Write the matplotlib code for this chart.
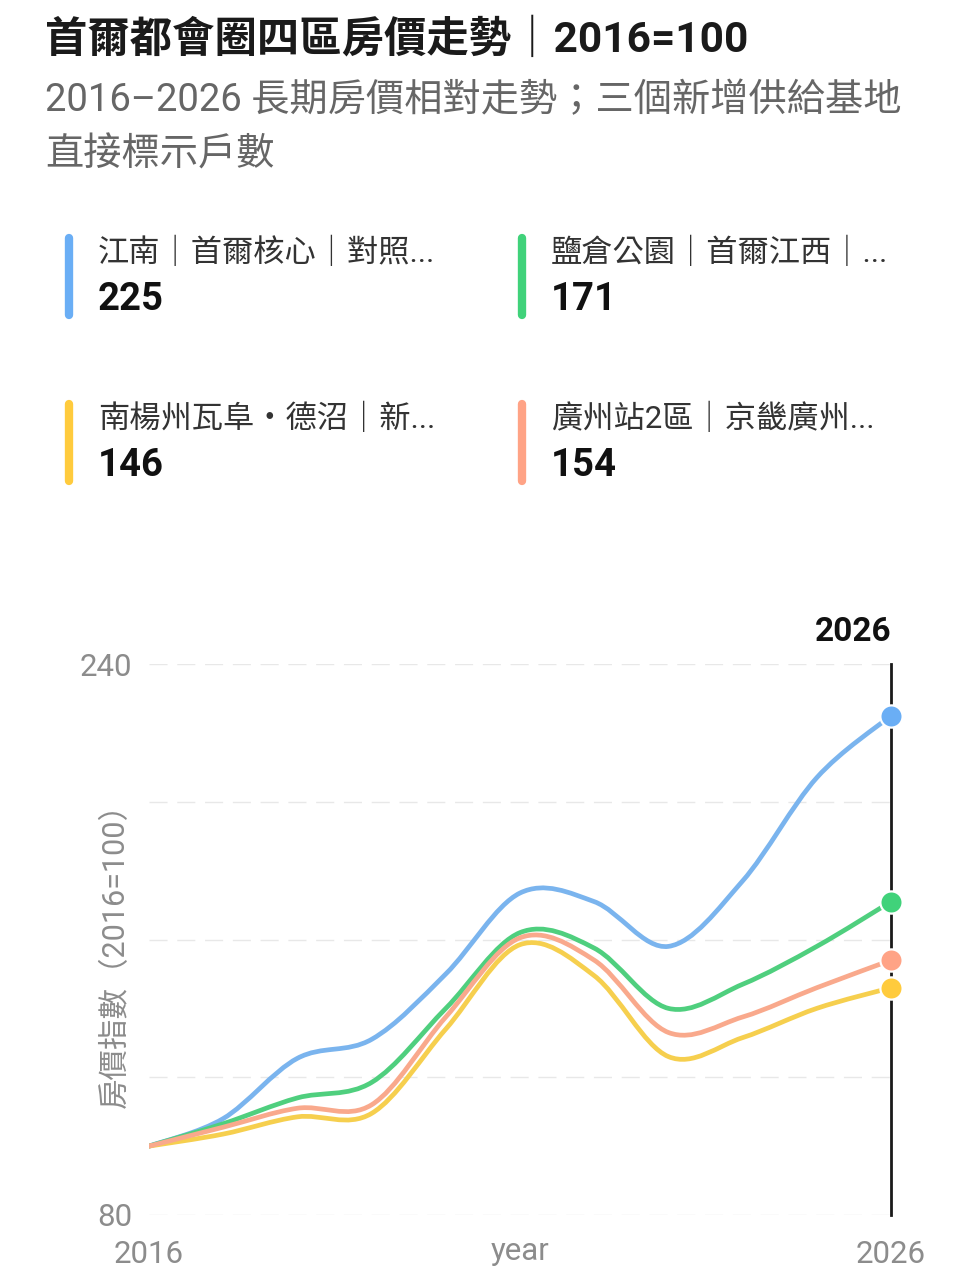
import numpy as np
import matplotlib.pyplot as plt
from matplotlib.path import Path
from matplotlib.patches import PathPatch
from matplotlib.lines import Line2D

plt.rcParams['font.family'] = ['Roboto', 'Noto Sans CJK TC', 'DejaVu Sans']

# data (2016 = 100)
years = np.arange(2016, 2027)
gangnam = [100, 108, 125.5, 131, 150, 173.5, 171, 158, 177, 207, 225]
yeomchang = [100, 106.5, 114, 118.5, 140, 162, 157.5, 140, 147, 158, 171]
namyangju = [100, 103.5, 108.5, 109.5, 134, 158.5, 149.5, 126, 131.5, 140, 146]
gwangju = [100, 105.5, 111, 112, 137.5, 160.5, 154, 133, 137.5, 146, 154]

labels = ['江南｜首爾核心｜對照...', '鹽倉公園｜首爾江西｜...',
          '南楊州瓦阜・德沼｜新...', '廣州站2區｜京畿廣州...']
series = [gangnam, yeomchang, namyangju, gwangju]
line_colors = ['#7ab4ee', '#4fcf7e', '#f6cf4e', '#f9a98c']
dot_colors = ['#6aaef5', '#40d27a', '#ffcb3d', '#ffa386']

W, H = 971, 1280
fig = plt.figure(figsize=(W / 100, H / 100), dpi=100)
fig.patch.set_facecolor('white')


def px(x, y):
    return x / W, 1 - y / H


def smooth_path(x, y, k=1 / 6):
    # catmull-rom style bezier through the points
    verts = [(x[0], y[0])]
    codes = [Path.MOVETO]
    n = len(x)
    for i in range(n - 1):
        a = i - 1 if i > 0 else i
        b = i + 2 if i + 2 < n else i + 1
        c1 = (x[i] + (x[i + 1] - x[a]) * k, y[i] + (y[i + 1] - y[a]) * k)
        c2 = (x[i + 1] - (x[b] - x[i]) * k, y[i + 1] - (y[b] - y[i]) * k)
        verts += [c1, c2, (x[i + 1], y[i + 1])]
        codes += [Path.CURVE4] * 3
    return Path(verts, codes)


# title block
fig.text(*px(45, 40), '首爾都會圈四區房價走勢｜2016=100', fontsize=30.5,
         fontweight='bold', color='#1a1a1a', va='center', ha='left')
fig.text(*px(45, 101), '2016–2026 長期房價相對走勢；三個新增供給基地',
         fontsize=27.5, color='#666666', va='center', ha='left')
fig.text(*px(45, 155), '直接標示戶數', fontsize=27.5, color='#666666',
         va='center', ha='left')

# legend cards
spots = [(69, 238), (522, 238), (69, 404), (522, 404)]
for (bx, by), lab, s, c in zip(spots, labels, series, dot_colors):
    x0, y0 = px(bx, by)
    x1, y1 = px(bx, by + 77)
    fig.add_artist(Line2D([x0, x1], [y0, y1], color=c, lw=6,
                          solid_capstyle='round', transform=fig.transFigure))
    fig.text(*px(bx + 29, by + 14), lab, fontsize=22.5, color='#333333',
             va='center', ha='left')
    fig.text(*px(bx + 29, by + 61), f'{s[-1]:.0f}', fontsize=27.5,
             fontweight='bold', color='#111111', va='center', ha='left')

# chart
ax = fig.add_axes([149 / W, 1 - 1215 / H, 742 / W, 551 / H])
ax.set_xlim(2016, 2026)
ax.set_ylim(80, 240)
for sp in ax.spines.values():
    sp.set_visible(False)

ax.set_yticks([80, 120, 160, 200, 240])
ax.set_yticklabels(['80', '', '', '', '240'])
ax.set_xticks([2016, 2026])
ax.set_xticklabels(['2016', '2026'])
ax.tick_params(length=0, labelsize=22.5, labelcolor='#8c8c8c')
ax.tick_params(axis='y', pad=12)
ax.tick_params(axis='x', pad=18)
ax.grid(axis='y', color='#e8e8e8', lw=1, dashes=(13, 7))
ax.grid(axis='x', visible=False)
ax.set_axisbelow(True)

ax.set_ylabel('房價指數（2016=100）', fontsize=22, color='#8c8c8c')
ax.yaxis.set_label_coords(-0.026, 0.485)
fig.text(*px(520, 1252), 'year', fontsize=22.5, color='#8c8c8c',
         ha='center', va='center')

for i in range(4):
    p = smooth_path(years.astype(float), np.array(series[i], float))
    ax.add_patch(PathPatch(p, fill=False, edgecolor=line_colors[i], lw=3.4,
                           capstyle='round', joinstyle='round', zorder=3))

ax.axvline(2026, color='#1a1a1a', lw=2, clip_on=False, zorder=4)
for s, c in zip(series, dot_colors):
    ax.plot(2026, s[-1], 'o', ms=16, color=c, mec='white', mew=1.6,
            clip_on=False, zorder=5)

fig.text(*px(891, 632), '2026', fontsize=24, fontweight='bold',
         color='#111111', va='center', ha='right')

fig.savefig('out.png', dpi=100)
